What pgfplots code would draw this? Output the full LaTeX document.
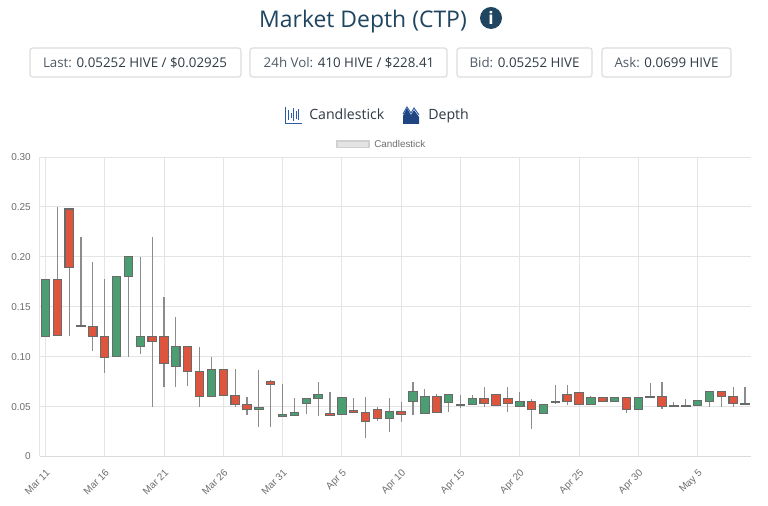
\documentclass[border=0pt]{standalone}
\usepackage{pgfplots}
\usepackage{pgfplotstable}
\pgfplotsset{compat=1.18}
\usepackage{fontspec}
\setmainfont{Open Sans}
\newfontfamily\arial{Liberation Sans}
\definecolor{titleblue}{HTML}{1F4560}
\definecolor{candred}{HTML}{DD553D}
\definecolor{candgreen}{HTML}{4B9D72}
\definecolor{candedge}{HTML}{6A6A6A}
\definecolor{wick}{HTML}{8C8C8C}
\definecolor{gridc}{HTML}{E4E4E4}
\definecolor{tickc}{HTML}{6E6E6E}
\definecolor{btnedge}{HTML}{DDDDDD}
\definecolor{iconblue}{HTML}{2A5CAA}
\definecolor{lab}{HTML}{4F5B66}
\definecolor{val}{HTML}{2F3A44}
\pgfplotstableread{
x low bot top high g
0 0.120 0.120 0.177 0.177 1
1 0.121 0.121 0.177 0.250 0
2 0.121 0.189 0.248 0.248 0
3 0.130 0.130 0.1315 0.220 0
4 0.106 0.120 0.130 0.195 0
5 0.084 0.099 0.120 0.178 0
6 0.100 0.100 0.180 0.180 1
7 0.100 0.180 0.200 0.200 1
8 0.103 0.110 0.120 0.200 1
9 0.050 0.115 0.120 0.220 0
10 0.070 0.093 0.120 0.160 0
11 0.070 0.090 0.110 0.140 1
12 0.071 0.085 0.110 0.110 0
13 0.050 0.060 0.085 0.110 0
14 0.060 0.060 0.087 0.100 1
15 0.061 0.061 0.087 0.088 0
16 0.050 0.052 0.061 0.088 0
17 0.042 0.047 0.052 0.060 0
18 0.030 0.047 0.0495 0.087 1
19 0.030 0.072 0.075 0.077 0
20 0.040 0.040 0.042 0.0725 1
21 0.041 0.0414 0.044 0.059 1
22 0.0424 0.053 0.058 0.058 1
23 0.041 0.0578 0.0624 0.0748 1
24 0.0414 0.0414 0.043 0.065 0
25 0.042 0.042 0.059 0.059 1
26 0.044 0.044 0.0457 0.059 0
27 0.019 0.0347 0.044 0.060 0
28 0.036 0.0377 0.047 0.050 0
29 0.025 0.038 0.0454 0.059 1
30 0.0347 0.042 0.045 0.055 0
31 0.042 0.0548 0.065 0.0748 1
32 0.043 0.043 0.060 0.068 1
33 0.0444 0.0444 0.060 0.0628 0
34 0.0447 0.054 0.062 0.062 1
35 0.0484 0.0508 0.0518 0.0618 1
36 0.0518 0.0518 0.058 0.0618 1
37 0.050 0.0534 0.0578 0.070 0
38 0.0508 0.0508 0.062 0.062 0
39 0.045 0.0528 0.058 0.070 0
40 0.0504 0.0504 0.055 0.065 1
41 0.0277 0.0467 0.055 0.0574 0
42 0.043 0.043 0.052 0.052 1
43 0.0527 0.0537 0.0554 0.072 1
44 0.052 0.0548 0.062 0.072 0
45 0.0517 0.0517 0.064 0.064 0
46 0.052 0.052 0.0588 0.061 1
47 0.0548 0.0548 0.0588 0.0588 0
48 0.0548 0.0548 0.059 0.059 1
49 0.044 0.0474 0.059 0.059 0
50 0.0474 0.0474 0.0594 0.0594 1
51 0.0588 0.0588 0.060 0.074 1
52 0.0477 0.050 0.060 0.0748 0
53 0.050 0.050 0.051 0.0548 1
54 0.0504 0.0504 0.0514 0.0574 1
55 0.051 0.051 0.0558 0.0558 1
56 0.050 0.0554 0.065 0.065 1
57 0.050 0.0598 0.065 0.065 0
58 0.050 0.053 0.060 0.070 0
59 0.0525 0.0525 0.0530 0.070 0
}\candles
\pgfplotsset{common/.style={
  at={(29.625pt,37.125pt)}, anchor=south west, scale only axis,
  width=533.6pt, height=224.6pt,
  xmin=-0.5, xmax=59.5, ymin=0, ymax=0.30}}
\begin{document}
\begin{tikzpicture}[x=0.75pt,y=0.75pt]
\path[fill=white] (0,0) rectangle (768,506);
% header
\node[anchor=base,inner sep=0pt,font=\fontsize{17.2pt}{20pt}\selectfont,text=titleblue] at (363,478) {Market Depth (CTP)};
\fill[titleblue] (491,488) circle (11);
\node[text=white,font=\fontsize{13pt}{13pt}\selectfont\bfseries] at (491,488) {i};
\foreach \a/\b in {30/241,250/447,457/592,602/731}
  \draw[btnedge,line width=0.9pt,fill=white,rounded corners=2pt] (\a,429) rectangle (\b,458);
\def\btn#1#2#3{\node[anchor=base,inner sep=0pt,font=\fontsize{10pt}{12pt}\selectfont] at (#1,438) {\textcolor{lab}{#2} \textcolor{val}{#3}};}
\btn{135}{Last:}{0.05252 HIVE / \$0.02925}
\btn{349}{24h Vol:}{410 HIVE / \$228.41}
\btn{524.5}{Bid:}{0.05252 HIVE}
\btn{666.5}{Ask:}{0.0699 HIVE}
% selector
\draw[iconblue,line width=0.7pt] (285.5,399) -- (285.5,382.5) -- (301.5,382.5);
\foreach \q/\u/\v in {288.5/386/396,291/388/393,293.5/385/398,296/387/395,298.5/386/397}
  \draw[iconblue,line width=0.6pt] (\q,\u) -- (\q,\v);
\node[anchor=base west,inner sep=0pt,text=val,font=\fontsize{10.6pt}{12pt}\selectfont] at (309,386) {Candlestick};
\fill[iconblue!75!black] (403,382) -- (403,390) -- (407,398) -- (411,391) -- (414,396) -- (419,389) -- (419,382) -- cycle;
\draw[iconblue,line width=0.7pt] (403,392) -- (407,399) -- (411,393) -- (414,398) -- (419,391);
\node[anchor=base west,inner sep=0pt,text=val,font=\fontsize{10.6pt}{12pt}\selectfont] at (428,386) {Depth};
% small legend
\draw[gridc!80!gray,line width=1pt,fill=gridc] (337,358.5) rectangle (369,365);
\node[anchor=base west,inner sep=0pt,text=tickc,font=\arial\fontsize{7.4pt}{8pt}\selectfont] at (374,358.5) {Candlestick};
% wicks and axes
\begin{axis}[common,
  axis line style={draw=none}, axis x line*=bottom, axis y line*=left,
  xtick={0,5,10,15,20,25,30,35,40,45,50,55},
  xticklabels={Mar 11,Mar 16,Mar 21,Mar 26,Mar 31,Apr 5,Apr 10,Apr 15,Apr 20,Apr 25,Apr 30,May 5},
  ytick={0,0.05,0.10,0.15,0.20,0.25,0.30},
  yticklabels={0,0.05,0.10,0.15,0.20,0.25,0.30},
  grid=major, grid style={gridc,line width=0.7pt},
  major tick length=0pt,
  tick label style={text=tickc,font=\arial\fontsize{7.5pt}{8pt}\selectfont},
  xticklabel style={rotate=45,anchor=north east,xshift=-3pt,yshift=-3pt},
  yticklabel style={xshift=-3pt},
  clip=false]
\addplot[draw=none,mark=none,forget plot,
  error bars/.cd,y dir=both,y explicit,error mark=none,
  error bar style={wick,line width=0.85pt}]
  table[x=x,y=low,y error plus expr=\thisrow{high}-\thisrow{low},y error minus expr=0] {\candles};
\draw[gridc!90!gray,line width=1.1pt] (axis cs:-0.5,0) -- (axis cs:59.5,0);
\draw[gridc,line width=0.8pt] (axis cs:-0.5,0) -- (axis cs:-0.5,0.30);
\end{axis}
% candle bodies
\begin{axis}[common, hide axis, ybar stacked, bar width=6.3pt, clip=false]
\addplot[draw=none,fill=none] table[x=x,y=bot] {\candles};
\addplot[draw=candedge,fill=candred,line width=0.85pt]
  table[x=x,y expr=(1-\thisrow{g})*(\thisrow{top}-\thisrow{bot})] {\candles};
\addplot[draw=candedge,fill=candgreen,line width=0.85pt]
  table[x=x,y expr=\thisrow{g}*(\thisrow{top}-\thisrow{bot})] {\candles};
\end{axis}
\end{tikzpicture}
\end{document}
